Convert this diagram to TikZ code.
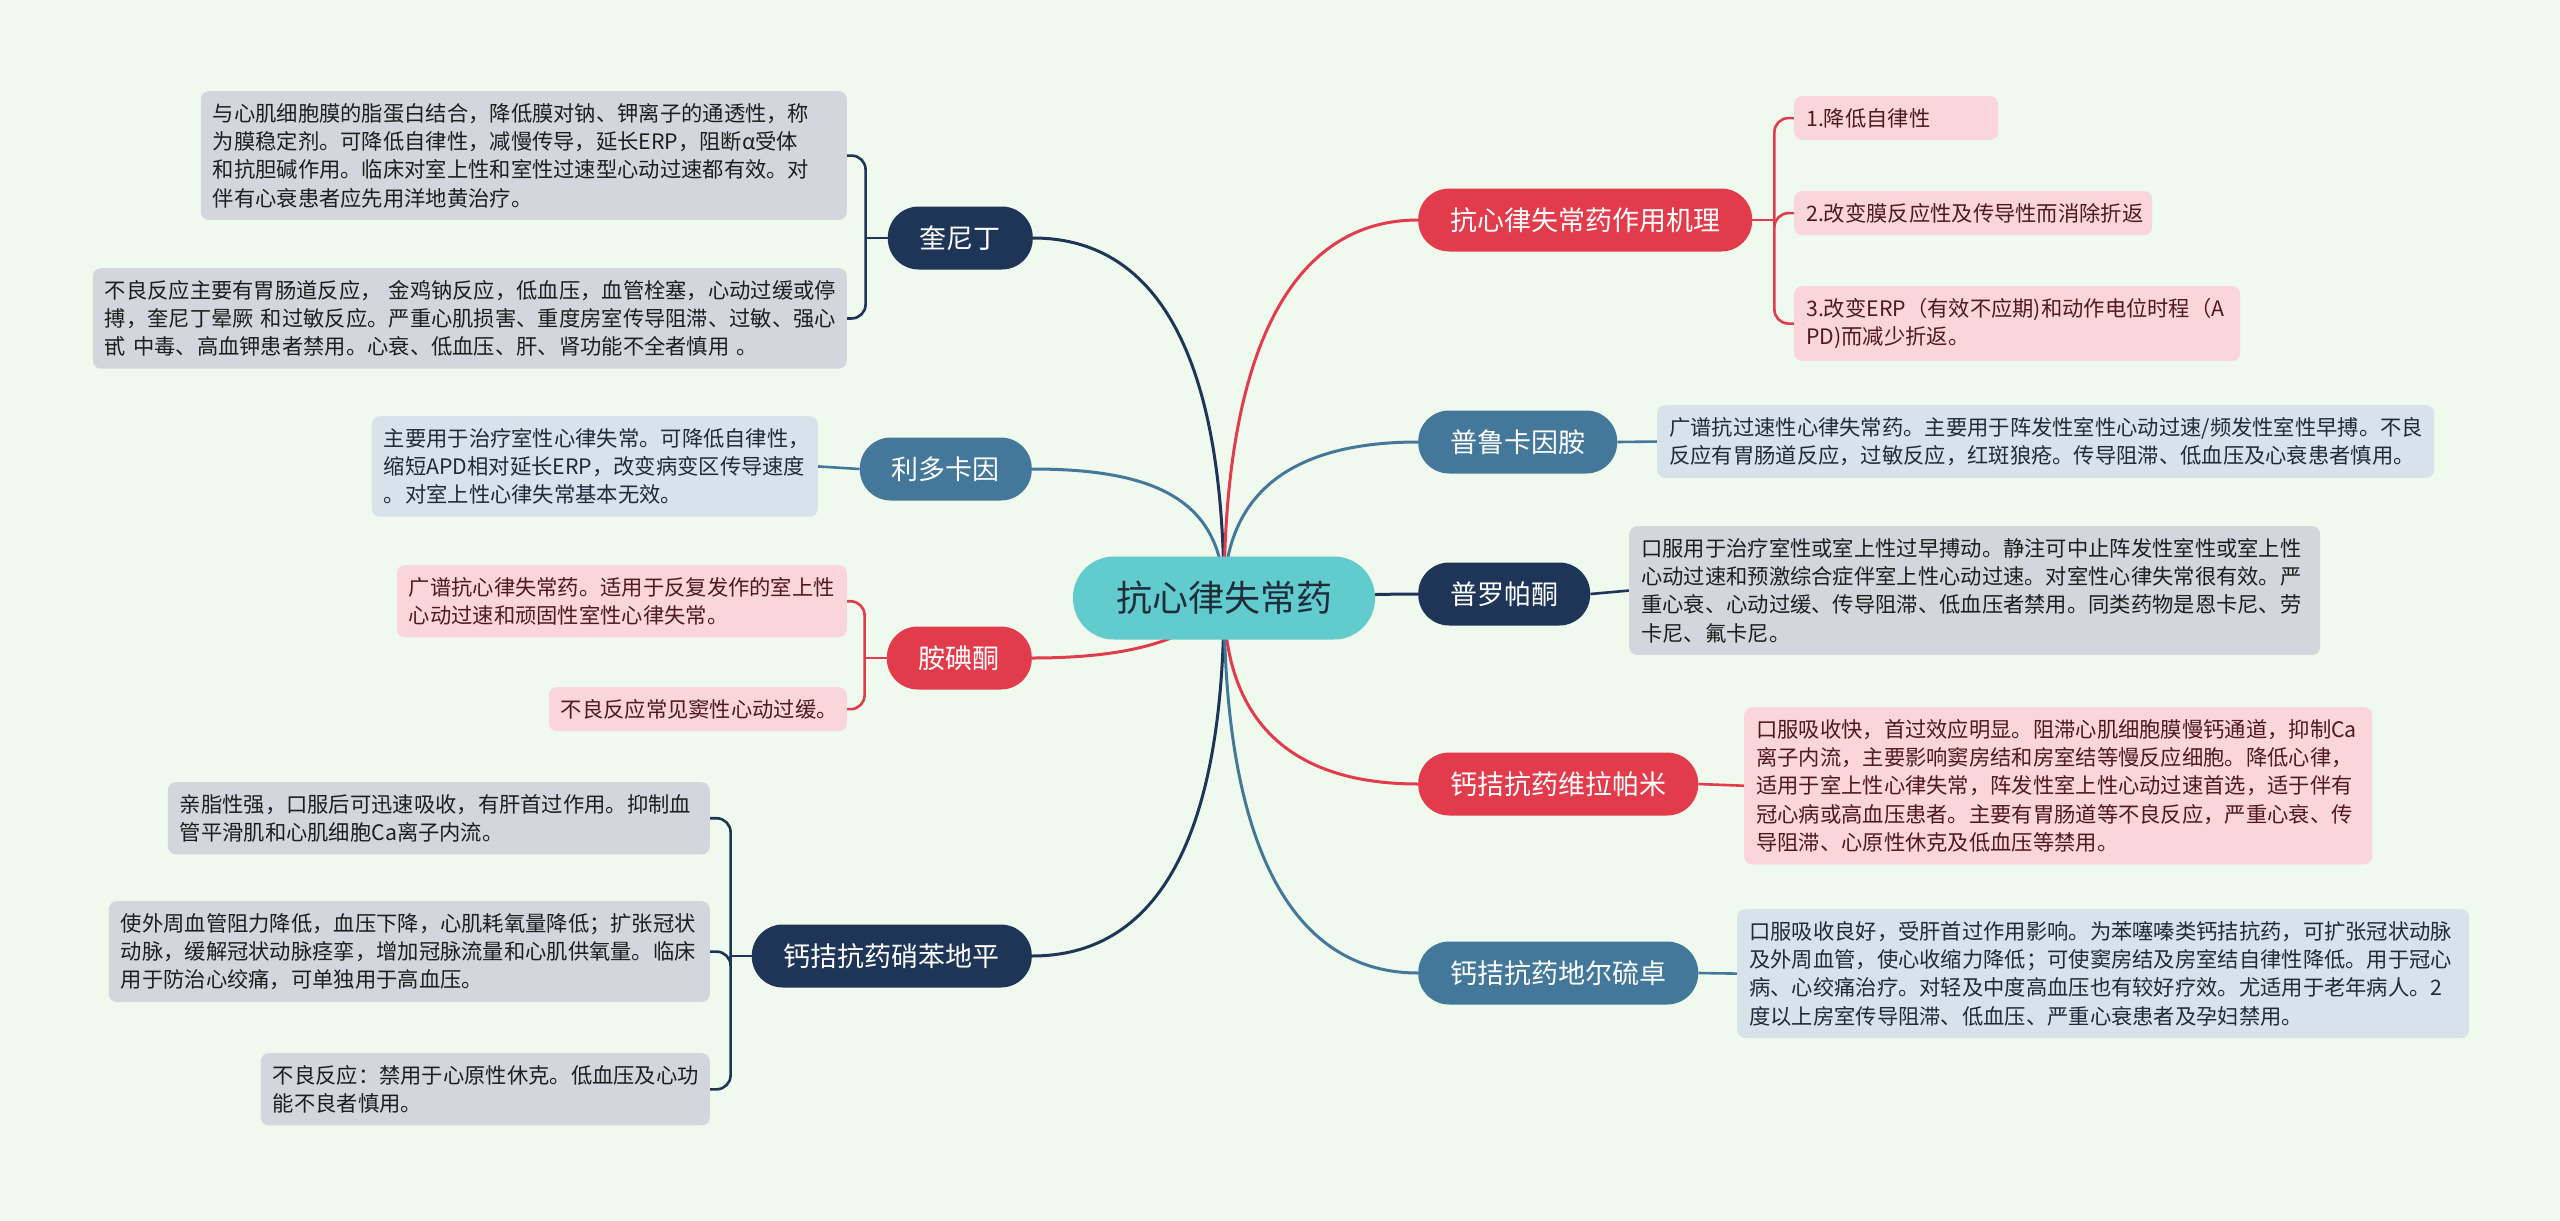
\documentclass[tikz,border=0pt]{standalone}
\usepackage{fontspec}
\setmainfont{Noto Sans CJK SC}
\usetikzlibrary{backgrounds}
\definecolor{bg}{HTML}{EFF9EE}
\definecolor{cteal}{HTML}{62CBCD}
\definecolor{cnavy}{HTML}{1E3557}
\definecolor{csteel}{HTML}{44789B}
\definecolor{cred}{HTML}{E23B4B}
\definecolor{fgray}{HTML}{D3D7DD}
\definecolor{fblue}{HTML}{D8E2EA}
\definecolor{fpink}{HTML}{FAD5DA}
\definecolor{tgray}{HTML}{1E1E1E}
\definecolor{tblue}{HTML}{1D2B3A}
\definecolor{tpink}{HTML}{4E1A20}
\definecolor{tcenter}{HTML}{1E2D3A}
\begin{document}
\begin{tikzpicture}[x=1pt,y=-1pt,
  centre/.style={fill=cteal,text=tcenter,rounded corners=41pt,minimum height=83pt,inner xsep=43pt,inner ysep=0pt,font=\fontsize{36}{40}\selectfont},
  topic/.style={text=white,rounded corners=31pt,minimum height=63pt,inner xsep=32pt,inner ysep=0pt,font=\fontsize{27}{32}\selectfont},
  box/.style={rounded corners=8pt,inner xsep=12pt,inner ysep=12pt,align=left,font=\fontsize{21.3}{28.3}\selectfont},
  gbox/.style={box,fill=fgray,text=tgray},
  bbox/.style={box,fill=fblue,text=tblue},
  pbox/.style={box,fill=fpink,text=tpink},
  conn/.style={line width=3pt},
  brk/.style={line width=2.6pt,rounded corners=14pt}]
\useasboundingbox (0,0) rectangle (2560,1221);

% main nodes
\node[centre] (c) at (1224,598) {抗心律失常药};
\node[topic,fill=cnavy,anchor=east] (q) at (1033,238) {奎尼丁};
\node[topic,fill=csteel,anchor=east] (l) at (1032,469) {利多卡因};
\node[topic,fill=cred,anchor=east] (a) at (1032,658) {胺碘酮};
\node[topic,fill=cnavy,anchor=east] (n) at (1032,956) {钙拮抗药硝苯地平};
\node[topic,fill=cred,anchor=west] (m) at (1418,220) {抗心律失常药作用机理};
\node[topic,fill=csteel,anchor=west] (p) at (1418,442) {普鲁卡因胺};
\node[topic,fill=cnavy,anchor=west] (r) at (1418,594) {普罗帕酮};
\node[topic,fill=cred,anchor=west] (v) at (1418,784) {钙拮抗药维拉帕米};
\node[topic,fill=csteel,anchor=west] (d) at (1418,973) {钙拮抗药地尔硫卓};

% left boxes
\node[gbox,anchor=north east,text width=622pt] (qa) at (847,91) {与心肌细胞膜的脂蛋白结合，降低膜对钠、钾离子的通透性，称\\为膜稳定剂。可降低自律性，减慢传导，延长ERP，阻断α受体\\和抗胆碱作用。临床对室上性和室性过速型心动过速都有效。对\\伴有心衰患者应先用洋地黄治疗。};
\node[gbox,anchor=north east,text width=730pt] (qb) at (847,268) {不良反应主要有胃肠道反应，~金鸡钠反应，低血压，血管栓塞，心动过缓或停\\搏，奎尼丁晕厥~和过敏反应。严重心肌损害、重度房室传导阻滞、过敏、强心\\甙~中毒、高血钾患者禁用。心衰、低血压、肝、肾功能不全者慎用~。};
\node[bbox,anchor=north east,text width=422pt] (lb) at (818,416) {主要用于治疗室性心律失常。可降低自律性，\\缩短APD相对延长ERP，改变病变区传导速度\\。对室上性心律失常基本无效。};
\node[pbox,anchor=north east,text width=426pt] (aa) at (847,565) {广谱抗心律失常药。适用于反复发作的室上性\\心动过速和顽固性室性心律失常。};
\node[pbox,anchor=north east,text width=274pt] (ab) at (847,687) {不良反应常见窦性心动过缓。};
\node[gbox,anchor=north east,text width=518pt] (na) at (710,782) {亲脂性强，口服后可迅速吸收，有肝首过作用。抑制血\\管平滑肌和心肌细胞Ca离子内流。};
\node[gbox,anchor=north east,text width=577pt] (nb) at (710,901) {使外周血管阻力降低，血压下降，心肌耗氧量降低；扩张冠状\\动脉，缓解冠状动脉痉挛，增加冠脉流量和心肌供氧量。临床\\用于防治心绞痛，可单独用于高血压。};
\node[gbox,anchor=north east,text width=425pt] (nc) at (710,1053) {不良反应：禁用于心原性休克。低血压及心功\\能不良者慎用。};

% right boxes
\node[pbox,anchor=north west,text width=180pt] (m1) at (1794,96) {1.降低自律性};
\node[pbox,anchor=north west,text width=334pt] (m2) at (1794,191) {2.改变膜反应性及传导性而消除折返};
\node[pbox,anchor=north west,text width=422pt] (m3) at (1794,286) {3.改变ERP（有效不应期)和动作电位时程（A\\PD)而减少折返。};
\node[bbox,anchor=north west,text width=753pt] (pb) at (1657,405) {广谱抗过速性心律失常药。主要用于阵发性室性心动过速/频发性室性早搏。不良\\反应有胃肠道反应，过敏反应，红斑狼疮。传导阻滞、低血压及心衰患者慎用。};
\node[gbox,anchor=north west,text width=667pt] (rb) at (1629,526) {口服用于治疗室性或室上性过早搏动。静注可中止阵发性室性或室上性\\心动过速和预激综合症伴室上性心动过速。对室性心律失常很有效。严\\重心衰、心动过缓、传导阻滞、低血压者禁用。同类药物是恩卡尼、劳\\卡尼、氟卡尼。};
\node[pbox,anchor=north west,text width=604pt] (vb) at (1744,707) {口服吸收快，首过效应明显。阻滞心肌细胞膜慢钙通道，抑制Ca\\离子内流，主要影响窦房结和房室结等慢反应细胞。降低心律，\\适用于室上性心律失常，阵发性室上性心动过速首选，适于伴有\\冠心病或高血压患者。主要有胃肠道等不良反应，严重心衰、传\\导阻滞、心原性休克及低血压等禁用。};
\node[bbox,anchor=north west,text width=708pt] (db) at (1737,909) {口服吸收良好，受肝首过作用影响。为苯噻嗪类钙拮抗药，可扩张冠状动脉\\及外周血管，使心收缩力降低；可使窦房结及房室结自律性降低。用于冠心\\病、心绞痛治疗。对轻及中度高血压也有较好疗效。尤适用于老年病人。2\\度以上房室传导阻滞、低血压、严重心衰患者及孕妇禁用。};

\begin{pgfonlayer}{background}
\fill[bg] (0,0) rectangle (2560,1221);
% centre to topics
\draw[conn,cnavy] (c.center) .. controls +(0,-250) and +(120,0) .. (q.east);
\draw[conn,csteel] (c.center) .. controls +(0,-100) and +(120,0) .. (l.east);
\draw[conn,cred] (c.center) .. controls +(-30,45) and +(90,0) .. (a.east);
\draw[conn,cnavy] (c.center) .. controls +(0,250) and +(120,0) .. (n.east);
\draw[conn,cred] (c.center) .. controls +(0,-260) and +(-120,0) .. (m.west);
\draw[conn,csteel] (c.center) .. controls +(0,-110) and +(-120,0) .. (p.west);
\draw[conn,cnavy] (c.center) .. controls +(60,0) and +(-60,0) .. (r.west);
\draw[conn,cred] (c.center) .. controls +(0,130) and +(-120,0) .. (v.west);
\draw[conn,csteel] (c.center) .. controls +(0,260) and +(-120,0) .. (d.west);
% topic to details
\draw[brk,cnavy] (q.west) -- ++(-22,0) coordinate (qj);
\draw[brk,cnavy] (qj) |- (qa.east);
\draw[brk,cnavy] (qj) |- (qb.east);
\draw[brk,csteel] (l.west) -- (lb.east);
\draw[brk,cred] (a.west) -- ++(-22,0) coordinate (aj);
\draw[brk,cred] (aj) |- (aa.east);
\draw[brk,cred] (aj) |- (ab.east);
\draw[brk,cnavy] (n.west) -- ++(-21,0) coordinate (nj);
\draw[brk,cnavy] (nj) |- (na.east);
\draw[brk,cnavy] (nj) |- (nb.east);
\draw[brk,cnavy] (nj) |- (nc.east);
\draw[brk,cred] (m.east) -- ++(22,0) coordinate (mj);
\draw[brk,cred] (mj) |- (m1.west);
\draw[brk,cred] (mj) |- (m2.west);
\draw[brk,cred] (mj) |- (m3.west);
\draw[brk,csteel] (p.east) -- (pb.west);
\draw[brk,cnavy] (r.east) -- (rb.west);
\draw[brk,cred] (v.east) -- (vb.west);
\draw[brk,csteel] (d.east) -- (db.west);
\end{pgfonlayer}
\end{tikzpicture}
\end{document}
